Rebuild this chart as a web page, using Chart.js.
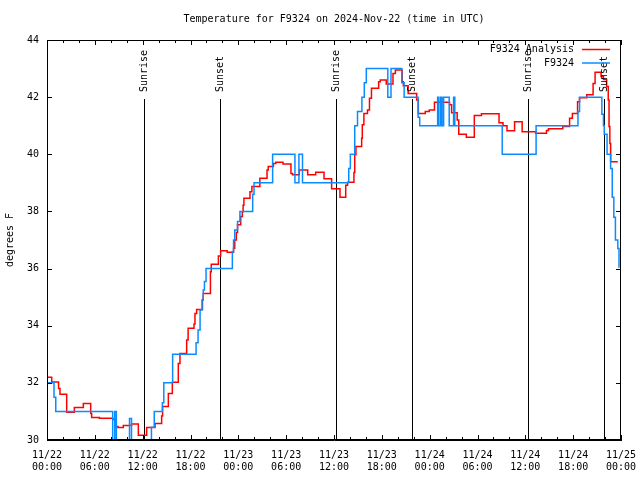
<!DOCTYPE html>
<html>
<head>
<meta charset="utf-8">
<script src="https://cdn.jsdelivr.net/npm/chart.js@4.4.1/dist/chart.umd.min.js"></script>
<style>
  html, body { margin: 0; padding: 0; background: #fff; }
  #wrap { width: 640px; height: 480px; }
</style>
</head>
<body>
<div id="wrap"><canvas id="chart" width="640" height="480"></canvas></div>
<script>
// Time axis is hours since 11/22 00:00 UTC
const xTickDates = ['11/22', '11/22', '11/22', '11/22', '11/23', '11/23', '11/23', '11/23', '11/24', '11/24', '11/24', '11/24', '11/25'];
const xTickTimes = ['00:00', '06:00', '12:00', '18:00', '00:00', '06:00', '12:00', '18:00', '00:00', '06:00', '12:00', '18:00', '00:00'];
const yTicks = [30, 32, 34, 36, 38, 40, 42, 44];

const sunHours = [12.2, 21.74, 36.29, 45.83, 60.38, 69.91];
const sunLabels = ['Sunrise', 'Sunset', 'Sunrise', 'Sunset', 'Sunrise', 'Sunset'];

// F9324 Analysis (red)
const analysisHours = [0, 0.59, 1.45, 1.63, 2.47, 3.43, 4.56, 5.48, 5.6, 6.57, 8.24, 8.66, 8.9, 9.57, 10.6, 11.46, 12.5,
  13.55, 14.38, 14.5, 15.22, 15.72, 16.47, 16.68, 17.52, 17.7, 18.44, 18.56, 18.77, 19.5, 19.6, 20.5, 20.6, 21.5, 21.78,
  22.6, 23.4, 23.55, 23.75, 23.9, 24.3, 24.5, 24.6, 24.7, 25.46, 25.7, 26.7, 27.6, 27.75, 28.4, 28.7, 29.6, 30.6, 30.8,
  31.65, 32.7, 33.7, 34.75, 35.7, 36.75, 37.47, 37.7, 38.5, 38.6, 38.75, 39.47, 39.55, 39.75, 40.2, 40.45, 40.7, 41.6,
  41.8, 42.55, 43.4, 43.7, 44.55, 44.7, 45.3, 46.37, 46.58, 47.45, 47.95, 48.6, 50.5, 50.75, 51.45, 51.65, 52.6, 53.6,
  54.5, 56.7, 57.2, 57.7, 58.65, 59.6, 61.3, 62.65, 62.9, 64.7, 65.55, 65.9, 66.55, 66.8, 67.7, 68.5, 68.75, 69.5, 69.8,
  70.2, 70.4, 70.5, 70.6, 70.7, 71.6];
const analysisTemps = [32.2, 32.03, 31.8, 31.6, 30.97, 31.14, 31.28, 30.93, 30.79, 30.76, 30.72, 30.47, 30.44, 30.51, 30.56, 30.17, 30.44,
  30.58, 30.84, 31.17, 31.63, 32.02, 32.68, 33.03, 33.5, 33.91, 34.06, 34.43, 34.57, 34.92, 35.13, 35.89, 36.15, 36.44, 36.62,
  36.57, 36.71, 37.0, 37.26, 37.53, 37.82, 37.99, 38.22, 38.46, 38.69, 38.87, 39.16, 39.45, 39.57, 39.68, 39.72, 39.66, 39.33, 39.28,
  39.45, 39.28, 39.37, 39.14, 38.79, 38.5, 38.92, 39.02, 39.36, 39.98, 40.27, 40.56, 41.03, 41.43, 41.55, 41.96, 42.31, 42.54,
  42.6, 42.46, 42.83, 42.95, 42.54, 42.4, 42.13, 41.9, 41.43, 41.5, 41.55, 41.82, 41.73, 41.45, 41.2, 40.7, 40.6, 41.36,
  41.42, 41.1, 41.0, 40.82, 41.14, 40.79, 40.74, 40.83, 40.89, 40.97, 41.26, 41.43, 41.84, 41.98, 42.08, 42.48, 42.87, 42.72, 42.62,
  42.37, 41.9, 40.97, 40.38, 39.74, 39.74];

// F9324 observations (blue)
const obsHours = [0, 0.88, 1.1, 8.24, 8.5, 8.7, 10.35, 10.6, 13.1, 13.45, 14.47, 14.65, 15.76, 18.7, 18.95, 19.2, 19.45, 19.6,
  19.75, 19.95, 23.25, 23.4, 23.55, 23.9, 24.2, 25.8, 25.97, 28.3, 31.1, 31.6, 32.05, 37.85, 38.05, 38.6, 38.95, 39.5, 39.8,
  40.05, 42.75, 43.15, 44.5, 44.8, 46.55, 46.75, 49.0, 49.15, 49.38, 49.55, 49.75, 50.45, 51.0, 51.15, 57.1, 61.35, 66.6,
  66.8, 69.6, 69.8, 69.9, 70.25, 70.7, 70.9, 71.1, 71.3, 71.6, 71.75, 71.8];
const obsTemps = [32, 31.5, 31, 29, 31, 29, 30.75, 29, 30.45, 31, 31.3, 32, 33, 33.4, 33.85, 34.55, 34.9, 35.25,
  35.55, 36, 36.6, 37, 37.35, 37.65, 38, 38.6, 39, 40, 39, 40, 39, 39.5, 40, 41, 41.5, 42, 42.5,
  43, 42, 43, 42.5, 42, 41.3, 41, 42, 41, 42, 41, 42, 41, 42, 41, 40, 41, 41.5,
  42, 41.4, 41, 40.7, 40, 39.5, 38.5, 37.8, 37, 36.7, 36.05, 36.05];

const RED = '#ff0000';
const BLUE = '#0a8cff';
const FONT = "'DejaVu Sans Mono', 'Liberation Mono', monospace";

function toPoints(xs, ys) {
    return xs.map((h, i) => ({ x: h, y: ys[i] }));
}

// gnuplot look: inward ticks, full border, sun markers, legend at top right
const gnuplotDecor = {
    id: 'gnuplotDecor',
    beforeDatasetsDraw(chart) {
        const { ctx, chartArea: a, scales: { x } } = chart;
        ctx.save();
        ctx.strokeStyle = '#000';
        ctx.lineWidth = 1;
        sunHours.forEach(h => {
            const px = Math.round(x.getPixelForValue(h)) + 0.5;
            ctx.beginPath();
            ctx.moveTo(px, a.bottom);
            ctx.lineTo(px, a.top + 59);
            ctx.stroke();
        });
        ctx.restore();
    },
    afterDatasetsDraw(chart) {
        const { ctx, chartArea: a, scales: { x, y } } = chart;
        ctx.save();
        ctx.strokeStyle = '#000';
        ctx.lineWidth = 1;

        // border
        ctx.strokeRect(a.left + 0.5, a.top + 0.5, a.right - a.left - 1, a.bottom - a.top - 1);

        // y ticks, both sides
        ctx.beginPath();
        yTicks.forEach(v => {
            const py = Math.round(y.getPixelForValue(v)) + 0.5;
            ctx.moveTo(a.left, py); ctx.lineTo(a.left + 5, py);
            ctx.moveTo(a.right, py); ctx.lineTo(a.right - 5, py);
        });
        // x ticks, major every 6 h, minor every 2 h, top and bottom
        for (let h = 0; h <= 72; h += 2) {
            const px = Math.round(x.getPixelForValue(h)) + 0.5;
            const len = h % 6 === 0 ? 5 : 3;
            ctx.moveTo(px, a.bottom); ctx.lineTo(px, a.bottom - len);
            ctx.moveTo(px, a.top); ctx.lineTo(px, a.top + len);
        }
        ctx.stroke();

        ctx.fillStyle = '#000';
        ctx.font = '10px ' + FONT;

        // sunrise / sunset labels
        sunHours.forEach((h, i) => {
            const px = Math.round(x.getPixelForValue(h)) + 0.5;
            ctx.save();
            ctx.translate(px, a.top + 52);
            ctx.rotate(-Math.PI / 2);
            ctx.textAlign = 'left';
            ctx.textBaseline = 'middle';
            ctx.fillText(sunLabels[i], 0, 0);
            ctx.restore();
        });

        // legend
        const rows = [
            { label: chart.data.datasets[0].label, color: RED, y: a.top + 9.5 },
            { label: chart.data.datasets[1].label, color: BLUE, y: a.top + 23 }
        ];
        rows.forEach(r => {
            ctx.textAlign = 'right';
            ctx.textBaseline = 'middle';
            ctx.fillStyle = '#000';
            ctx.fillText(r.label, a.right - 47, r.y);
            ctx.strokeStyle = r.color;
            ctx.lineWidth = 1.5;
            ctx.beginPath();
            ctx.moveTo(a.right - 39, r.y);
            ctx.lineTo(a.right - 11, r.y);
            ctx.stroke();
        });

        // title
        ctx.fillStyle = '#000';
        ctx.textAlign = 'center';
        ctx.textBaseline = 'middle';
        ctx.fillText('Temperature for F9324 on 2024-Nov-22 (time in UTC)', (a.left + a.right) / 2, 19);

        // y axis title
        ctx.save();
        ctx.translate(10, (a.top + a.bottom) / 2);
        ctx.rotate(-Math.PI / 2);
        ctx.fillText('degrees F', 0, 0);
        ctx.restore();

        ctx.restore();
    }
};

Chart.defaults.font.family = FONT;
Chart.defaults.font.size = 10;
Chart.defaults.color = '#000';

const ctx = document.getElementById('chart').getContext('2d');
new Chart(ctx, {
    type: 'line',
    data: {
        datasets: [
            {
                label: 'F9324 Analysis',
                data: toPoints(analysisHours, analysisTemps),
                borderColor: RED,
                borderWidth: 1.5,
                stepped: true,
                pointRadius: 0,
                fill: false,
                order: 2
            },
            {
                label: 'F9324',
                data: toPoints(obsHours, obsTemps),
                borderColor: BLUE,
                borderWidth: 1.5,
                stepped: true,
                pointRadius: 0,
                fill: false,
                order: 1
            }
        ]
    },
    options: {
        responsive: false,
        animation: false,
        layout: { padding: { top: 40, right: 19, left: 0, bottom: 0 } },
        plugins: {
            legend: { display: false },
            tooltip: { enabled: false },
            title: { display: false }
        },
        scales: {
            x: {
                type: 'linear',
                min: 0,
                max: 72,
                grid: { display: false, drawTicks: false },
                border: { display: true, color: '#000' },
                afterFit: s => {
                    s.height = 40;
                    s.paddingLeft = 0;
                    s.paddingRight = 0;
                },
                ticks: {
                    stepSize: 6,
                    autoSkip: false,
                    maxRotation: 0,
                    padding: 9,
                    font: { size: 10, lineHeight: 1.25 },
                    callback: v => [xTickDates[v / 6], xTickTimes[v / 6]]
                }
            },
            y: {
                min: 30,
                max: 44,
                grid: { display: false, drawTicks: false },
                border: { display: true, color: '#000' },
                afterFit: s => { s.width = 47; },
                ticks: {
                    stepSize: 2,
                    padding: 8,
                    font: { size: 10 }
                }
            }
        }
    },
    plugins: [gnuplotDecor]
});
</script>
</body>
</html>
